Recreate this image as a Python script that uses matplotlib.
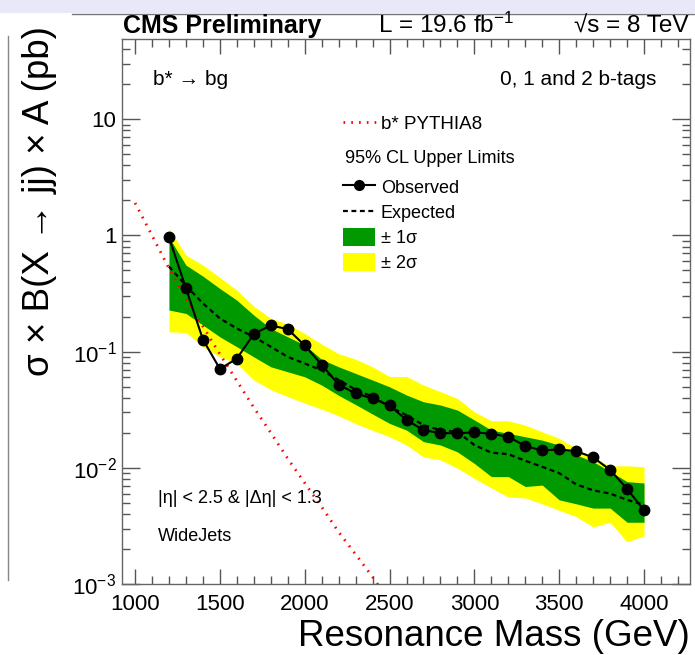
import numpy as np
import matplotlib
matplotlib.use('Agg')
import matplotlib.pyplot as plt
from matplotlib.ticker import FixedLocator, LogLocator, FuncFormatter, MultipleLocator, NullFormatter
from matplotlib.patches import Patch
from matplotlib.lines import Line2D

plt.rcParams['font.family'] = ['Liberation Sans', 'DejaVu Sans']
plt.rcParams['mathtext.fontset'] = 'custom'
plt.rcParams['mathtext.rm'] = 'Liberation Sans'
plt.rcParams['mathtext.it'] = 'Liberation Sans:italic'
plt.rcParams['mathtext.bf'] = 'Liberation Sans:bold'
plt.rcParams['mathtext.sf'] = 'Liberation Sans'

# ---------------- data ----------------
mass = [1200, 1300, 1400, 1500, 1600, 1700, 1800, 1900, 2000, 2100, 2200, 2300, 2400,
        2500, 2600, 2700, 2800, 2900, 3000, 3100, 3200, 3300, 3400, 3500, 3600, 3700,
        3800, 3900, 4000]
observed = [0.96, 0.35, 0.127, 0.071, 0.087, 0.142, 0.168, 0.156, 0.113, 0.077, 0.052,
            0.0436, 0.0395, 0.0344, 0.0258, 0.0211, 0.0199, 0.0198, 0.0202, 0.0196,
            0.0185, 0.0154, 0.0141, 0.0144, 0.0139, 0.0123, 0.0096, 0.0066, 0.0043]
expected = [0.54, 0.37, 0.26, 0.193, 0.158, 0.134, 0.110, 0.090, 0.079, 0.069, 0.057,
            0.047, 0.041, 0.0335, 0.0284, 0.0233, 0.0211, 0.0204, 0.0157, 0.0135, 0.0131,
            0.0115, 0.0102, 0.0090, 0.0072, 0.0064, 0.0060, 0.0053, 0.0048]
plus1 = [0.96, 0.555, 0.446, 0.349, 0.277, 0.206, 0.158, 0.134, 0.114, 0.0857, 0.074,
         0.0649, 0.0569, 0.0498, 0.0423, 0.037, 0.0347, 0.0314, 0.0258, 0.0211, 0.0198,
         0.0185, 0.0173, 0.0157, 0.0129, 0.0113, 0.0093, 0.0076, 0.0074]
minus1 = [0.228, 0.213, 0.169, 0.134, 0.110, 0.090, 0.074, 0.067, 0.0607, 0.0515, 0.042,
          0.035, 0.029, 0.0241, 0.0211, 0.0168, 0.0157, 0.0137, 0.0109, 0.0084, 0.0084,
          0.0069, 0.0071, 0.0053, 0.0049, 0.0045, 0.0045, 0.0034, 0.0034]
plus2 = [1.15, 0.676, 0.555, 0.435, 0.338, 0.246, 0.193, 0.173, 0.143, 0.116, 0.096,
         0.086, 0.074, 0.061, 0.061, 0.0515, 0.0452, 0.0395, 0.0303, 0.0254, 0.0254,
         0.0233, 0.0204, 0.0179, 0.0147, 0.0121, 0.0104, 0.0104, 0.0102]
minus2 = [0.148, 0.146, 0.110, 0.090, 0.079, 0.057, 0.047, 0.041, 0.036, 0.032, 0.028,
          0.024, 0.021, 0.0185, 0.0157, 0.0124, 0.0117, 0.0099, 0.0081, 0.0067, 0.0056,
          0.0055, 0.0049, 0.0043, 0.0038, 0.0031, 0.0034, 0.0023, 0.0026]
theory_mass = [1000, 1100, 1200, 1300, 1400, 1500, 1600, 1700, 1800, 1900, 2000, 2100,
               2200, 2300, 2400, 2500]
theory_xsec = [1.9, 1.0, 0.52, 0.29, 0.165, 0.095, 0.056, 0.033, 0.020, 0.012, 0.0074,
               0.0046, 0.0028, 0.0018, 0.00115, 0.0007]
x_ticks = [1000, 1500, 2000, 2500, 3000, 3500, 4000]
y_ticks = [1e-3, 1e-2, 1e-1, 1, 10]
y_tick_labels = ['$10^{-3}$', '$10^{-2}$', '$10^{-1}$', '1', '10']

# ---------------- figure ----------------
W, H = 695, 655
fig = plt.figure(figsize=(W / 100, H / 100), dpi=100)

def fx(px):
    return px / W

def fy(py):
    return 1 - py / H

ax = fig.add_axes([fx(122), fy(584), fx(690) - fx(122), fy(39) - fy(584)])
ax.set_yscale('log')
ax.set_xlim(923, 4271)
ax.set_ylim(1e-3, 49)

green = '#009a00'
yellow = '#ffff00'
ax.fill_between(mass, minus2, plus2, color=yellow, lw=0, zorder=1)
ax.fill_between(mass, minus1, plus1, color=green, lw=0, zorder=2)
ax.plot(mass, expected, color='black', lw=1.6, ls=(0, (2.2, 1.6)), zorder=3)
ax.plot(theory_mass, theory_xsec, color='red', lw=2.0, ls=(0, (0.6, 2.2)), zorder=4)
ax.plot(mass, observed, color='black', lw=1.5, marker='o', ms=7.5, zorder=5)

# ticks
ax.xaxis.set_major_locator(FixedLocator(x_ticks))
ax.xaxis.set_minor_locator(MultipleLocator(100))
ax.yaxis.set_major_locator(FixedLocator(y_ticks))
ax.yaxis.set_minor_locator(LogLocator(base=10, subs=np.arange(2, 10)))
ax.yaxis.set_minor_formatter(NullFormatter())
ax.set_yticklabels(y_tick_labels)
ax.tick_params(which='both', direction='in', top=True, right=True, colors='#555555',
               labelcolor='black', labelsize=16)
ax.tick_params(axis='x', which='major', length=11, width=1.0, pad=7)
ax.tick_params(axis='x', which='minor', length=6, width=1.0)
ax.tick_params(axis='y', which='major', length=13, width=1.0, pad=4)
ax.tick_params(axis='y', which='minor', length=6, width=1.0)
for s in ax.spines.values():
    s.set_color('#666666')
    s.set_linewidth(1.0)

# axis titles
fig.text(fx(690), fy(636), 'Resonance Mass (GeV)', ha='right', va='center', fontsize=26.5)
fig.text(fx(40), fy(26), r'σ × B(X → jj) × A (pb)', ha='center', va='top', rotation=90,
         fontsize=26.5)

# header
fig.text(fx(123), fy(33), 'CMS Preliminary', ha='left', va='baseline', fontsize=18,
         fontweight='bold')
fig.text(fx(378), fy(33), r'L = 19.6 fb$^{\mathregular{-1}}$', ha='left', va='baseline',
         fontsize=17.5)
fig.text(fx(688), fy(33), '√s = 8 TeV', ha='right', va='baseline', fontsize=17.5)

# in-plot labels
fig.text(fx(153), fy(85), 'b* → bg', ha='left', va='baseline', fontsize=15)
fig.text(fx(656), fy(85), '0, 1 and 2 b-tags', ha='right', va='baseline', fontsize=15)
fig.text(fx(158), fy(503), '|η| < 2.5 & |Δη| < 1.3', ha='left', va='baseline', fontsize=13)
fig.text(fx(158), fy(541), 'WideJets', ha='left', va='baseline', fontsize=13)

# legends
h_th = Line2D([], [], color='red', lw=2.0, ls=(0, (0.6, 2.2)))
leg1 = ax.legend([h_th], ['b* PYTHIA8'], loc='center left',
                 bbox_to_anchor=(fx(343) , fy(124)), bbox_transform=fig.transFigure,
                 frameon=False, fontsize=13.5, handlelength=1.75, handletextpad=0.3,
                 borderpad=0, borderaxespad=0)
ax.add_artist(leg1)
fig.text(fx(345), fy(158), '95% CL Upper Limits', ha='left', va='center', fontsize=13)
h_obs = Line2D([], [], color='black', lw=1.5, marker='o', ms=7)
h_exp = Line2D([], [], color='black', lw=1.6, ls=(0, (2.2, 1.6)))
h_g = Patch(facecolor=green, edgecolor='none')
h_y = Patch(facecolor=yellow, edgecolor='none')
leg2 = ax.legend([h_obs, h_exp, h_g, h_y], ['Observed', 'Expected', '± 1σ', '± 2σ'],
                 loc='upper left', bbox_to_anchor=(fx(343), fy(178)),
                 bbox_transform=fig.transFigure, frameon=False, fontsize=13,
                 handlelength=1.75, handleheight=1.1, handletextpad=0.35,
                 labelspacing=0.35, borderpad=0, borderaxespad=0)

# slide decorations (neighbouring panel and header strip)
fig.patches.append(matplotlib.patches.Rectangle((0, fy(13)), 1, 1 - fy(13),
                   transform=fig.transFigure, facecolor='#e8e8f8', edgecolor='none'))
fig.add_artist(Line2D([fx(72), 1], [fy(14), fy(14)], transform=fig.transFigure,
                      color='#777777', lw=1.0))
fig.add_artist(Line2D([fx(8), fx(8)], [fy(36), fy(580)], transform=fig.transFigure,
                      color='#888888', lw=1.0))

fig.savefig('out.png', dpi=100)
